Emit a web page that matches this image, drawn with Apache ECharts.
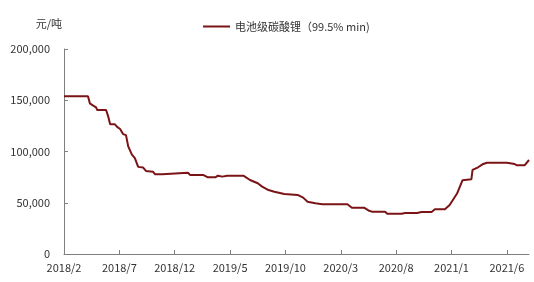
<!DOCTYPE html>
<html>
<head>
<meta charset="utf-8">
<script src="https://cdn.jsdelivr.net/npm/echarts@6/dist/echarts.min.js"></script>
<style>html,body{margin:0;padding:0;background:#fff}#c{width:534px;height:282px}</style>
</head>
<body>
<div id="c"></div>
<script>
var seriesName = '电池级碳酸锂（99.5% min)';
var unitName = '元/吨';
var dates = ['2018-02-01','2018-04-06','2018-04-11','2018-04-19','2018-04-28','2018-05-01','2018-05-25','2018-06-01','2018-06-06','2018-06-19','2018-06-25','2018-07-03','2018-07-11','2018-07-19','2018-07-25','2018-08-05','2018-08-13','2018-08-22','2018-09-05','2018-09-13','2018-10-02','2018-10-08','2018-10-27','2018-11-02','2019-01-07','2019-01-13','2019-02-19','2019-02-24','2019-03-01','2019-03-21','2019-03-28','2019-04-10','2019-04-23','2019-06-07','2019-06-25','2019-07-16','2019-07-28','2019-08-15','2019-09-01','2019-09-28','2019-11-04','2019-11-19','2019-12-01','2019-12-22','2020-01-11','2020-03-19','2020-04-01','2020-05-04','2020-05-16','2020-05-25','2020-07-01','2020-07-07','2020-08-16','2020-08-25','2020-09-28','2020-10-10','2020-11-07','2020-11-16','2020-12-13','2020-12-26','2021-01-16','2021-02-01','2021-02-25','2021-02-28','2021-03-13','2021-03-25','2021-04-07','2021-06-01','2021-06-04','2021-06-22','2021-06-28','2021-07-19','2021-08-01'];
var prices = [154000,154000,147000,145000,143000,140500,140500,134000,126500,126500,124000,122000,117000,116000,105000,97000,93600,85000,84500,81000,80300,77700,77700,79300,79300,77000,77000,77700,74800,74800,76400,75500,76400,76400,72200,69000,65700,62400,60800,58500,57600,55000,51000,49500,48500,48500,45200,45200,42500,41300,41300,39300,39300,40000,40000,41000,41000,43600,43600,47800,59000,72000,73000,82000,84600,87500,89000,89000,87800,87800,86500,86500,91700];
var yTicks = [0, 50000, 100000, 150000, 200000];

function monthOffset(s) {
  var p = s.split('-').map(Number);
  return (p[0] - 2018) * 12 + (p[1] - 2) + (p[2] - 1) / 30;
}
var data = dates.map(function (d, i) { return [monthOffset(d), prices[i]]; });

var font = 'Noto Sans CJK SC';
var chart = echarts.init(document.getElementById('c'));
chart.setOption({
  animation: false,
  textStyle: { fontFamily: font },
  grid: { left: 64, right: 5, top: 49, bottom: 28, containLabel: false },
  legend: {
    data: [seriesName], left: 198, top: 16,
    icon: 'rect', itemWidth: 27, itemHeight: 2, itemGap: 4,
    textStyle: { fontFamily: font, fontSize: 11, color: '#333' }
  },
  xAxis: {
    type: 'value', min: 0, max: 42, interval: 5,
    axisLine: { show: true, lineStyle: { color: '#7f7f7f', width: 1 } },
    axisTick: { show: true, inside: true, length: 4, lineStyle: { color: '#7f7f7f' } },
    splitLine: { show: false },
    axisLabel: {
      showMaxLabel: false, margin: 8, fontSize: 11, color: '#333', fontFamily: font,
      formatter: function (v) {
        var t = 1 + Math.round(v);
        return (2018 + Math.floor(t / 12)) + '/' + (t % 12 + 1);
      }
    }
  },
  yAxis: {
    type: 'value', min: yTicks[0], max: yTicks[yTicks.length - 1], interval: yTicks[1] - yTicks[0],
    name: unitName, nameLocation: 'end', nameGap: 20,
    nameTextStyle: { align: 'right', fontSize: 11, color: '#333', fontFamily: font, padding: [0, 2, 0, 0] },
    axisLine: { show: true, lineStyle: { color: '#7f7f7f', width: 1 } },
    axisTick: { show: true, inside: true, length: 4, lineStyle: { color: '#7f7f7f' } },
    splitLine: { show: false },
    axisLabel: {
      margin: 14, fontSize: 11, color: '#333', fontFamily: font,
      formatter: function (v) { return v.toLocaleString('en-US'); }
    }
  },
  series: [{
    name: seriesName, type: 'line', data: data, symbol: 'none',
    lineStyle: { color: '#7b1416', width: 2 }, itemStyle: { color: '#7b1416' }
  }]
});
</script>
</body>
</html>
